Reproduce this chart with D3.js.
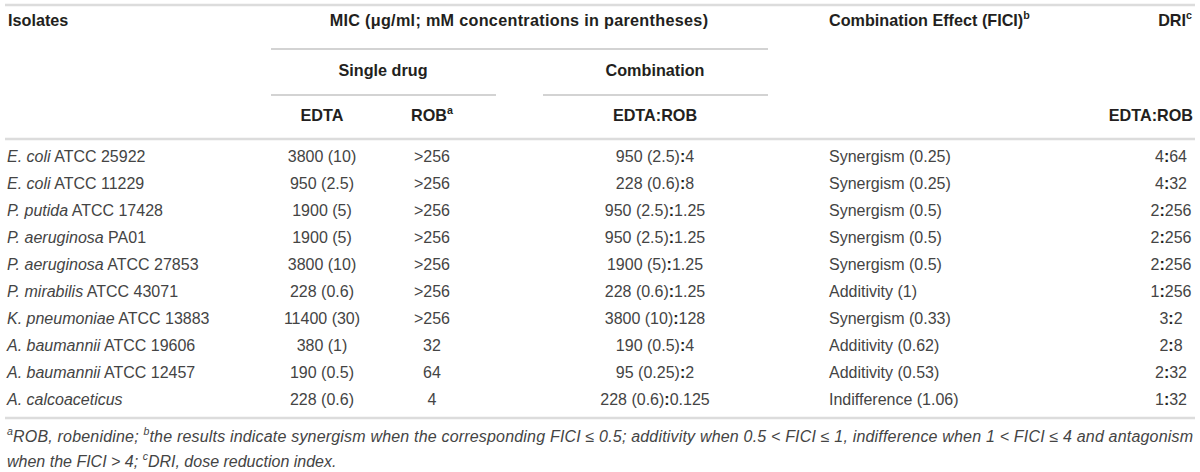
<!DOCTYPE html>
<html><head><meta charset="utf-8">
<script src="https://cdn.jsdelivr.net/npm/d3@7"></script>
<style>
html,body{margin:0;padding:0;background:#fff;}
svg text{font-family:"Liberation Sans",Arial,Helvetica,sans-serif;}
</style></head>
<body><svg id="c" width="1200" height="472"></svg>
<script>
const species = ["E. coli","E. coli","P. putida","P. aeruginosa","P. aeruginosa","P. mirabilis","K. pneumoniae","A. baumannii","A. baumannii","A. calcoaceticus"];
const strains = ["ATCC 25922","ATCC 11229","ATCC 17428","PA01","ATCC 27853","ATCC 43071","ATCC 13883","ATCC 19606","ATCC 12457",""];
const micEdta = ["3800 (10)","950 (2.5)","1900 (5)","1900 (5)","3800 (10)","228 (0.6)","11400 (30)","380 (1)","190 (0.5)","228 (0.6)"];
const micRob = [">256",">256",">256",">256",">256",">256",">256","32","64","4"];
const comboEdta = ["950 (2.5)","228 (0.6)","950 (2.5)","950 (2.5)","1900 (5)","228 (0.6)","3800 (10)","190 (0.5)","95 (0.25)","228 (0.6)"];
const comboRob = ["4","8","1.25","1.25","1.25","1.25","128","4","2","0.125"];
const effects = ["Synergism (0.25)","Synergism (0.25)","Synergism (0.5)","Synergism (0.5)","Synergism (0.5)","Additivity (1)","Synergism (0.33)","Additivity (0.62)","Additivity (0.53)","Indifference (1.06)"];
const driEdta = ["4","4","2","2","2","1","3","2","2","1"];
const driRob = ["64","32","256","256","256","256","2","8","32","32"];

const svg = d3.select("#c");
const fs = 16, hfs = 16.2;
const dark = "#231f20", body = "#444";

const y = d3.scalePoint().domain(d3.range(species.length)).range([158, 401]);

const rule = (x1,x2,yy,c,w)=>svg.append("line").attr("x1",x1).attr("x2",x2).attr("y1",yy).attr("y2",yy).attr("stroke",c).attr("stroke-width",w);
rule(5,1195,5,"#dcdcdc",2.5);
rule(271,768,49,"#a8a8a8",1.2);
rule(271,496,95,"#a8a8a8",1.2);
rule(543,768,95,"#a8a8a8",1.2);
rule(5,1195,139,"#dcdcdc",2.5);
rule(5,1195,418,"#dcdcdc",2.5);

function htext(x,yy,anchor,parts){
  const t = svg.append("text").attr("x",x).attr("y",yy).attr("text-anchor",anchor)
    .attr("font-size",hfs).attr("font-weight","bold").attr("fill",dark).attr("dominant-baseline","middle");
  parts.forEach(p=>{
    const s=t.append("tspan").text(p.t);
    if(p.sup){s.attr("font-size",hfs*0.66).attr("baseline-shift","super");}
  });
  return t;
}
htext(8,22,"start",[{t:"Isolates"}]);
htext(519,22,"middle",[{t:"MIC (\u03bcg/ml; mM concentrations in parentheses)"}]).attr("letter-spacing",0.3);
htext(829,22,"start",[{t:"Combination Effect (FICI)"},{t:"b",sup:true}]);
htext(1192,22,"end",[{t:"DRI"},{t:"c",sup:true}]);
htext(383,72,"middle",[{t:"Single drug"}]);
htext(655,72,"middle",[{t:"Combination"}]);
htext(322,117,"middle",[{t:"EDTA"}]);
htext(432,117,"middle",[{t:"ROB"},{t:"a",sup:true}]);
htext(655,117,"middle",[{t:"EDTA:ROB"}]);
htext(1193,117,"end",[{t:"EDTA:ROB"}]);

const rows = svg.append("g").selectAll("g").data(d3.range(species.length)).join("g")
  .attr("transform",i=>`translate(0,${y(i)})`);
const cell = (sel,x,anchor)=>sel.append("text").attr("x",x).attr("text-anchor",anchor)
  .attr("dominant-baseline","middle").attr("font-size",fs).attr("fill",body);

const iso = cell(rows,7,"start");
iso.append("tspan").attr("font-style","italic").text(i=>species[i]);
iso.append("tspan").text(i=>strains[i]?" "+strains[i]:"");
cell(rows,322,"middle").text(i=>micEdta[i]);
cell(rows,432,"middle").text(i=>micRob[i]);
const cb = cell(rows,655,"middle");
cb.append("tspan").text(i=>comboEdta[i]);
cb.append("tspan").attr("font-weight","bold").attr("fill",dark).text(":");
cb.append("tspan").text(i=>comboRob[i]);
cell(rows,829,"start").text(i=>effects[i]);
const dr = cell(rows,1171,"middle");
dr.append("tspan").text(i=>driEdta[i]);
dr.append("tspan").attr("font-weight","bold").attr("fill",dark).text(":");
dr.append("tspan").text(i=>driRob[i]);

function foot(yy,parts,len){
  const t = svg.append("text").attr("x",7).attr("y",yy).attr("font-size",fs).attr("font-style","italic")
    .attr("fill",body).attr("dominant-baseline","middle");
  parts.forEach(p=>{
    const s=t.append("tspan").text(p.t);
    if(p.sup) s.attr("font-size",fs*0.66).attr("baseline-shift","super");
  });
  if(len) t.attr("textLength",len).attr("lengthAdjust","spacing");
}
foot(438,[{t:"a",sup:true},{t:"ROB, robenidine; "},{t:"b",sup:true},{t:"the results indicate synergism when the corresponding FICI \u2264 0.5; additivity when 0.5 < FICI \u2264 1, indifference when 1 < FICI \u2264 4 and antagonism"}],1186);
foot(463,[{t:"when the FICI > 4; "},{t:"c",sup:true},{t:"DRI, dose reduction index."}]);
</script></body></html>
